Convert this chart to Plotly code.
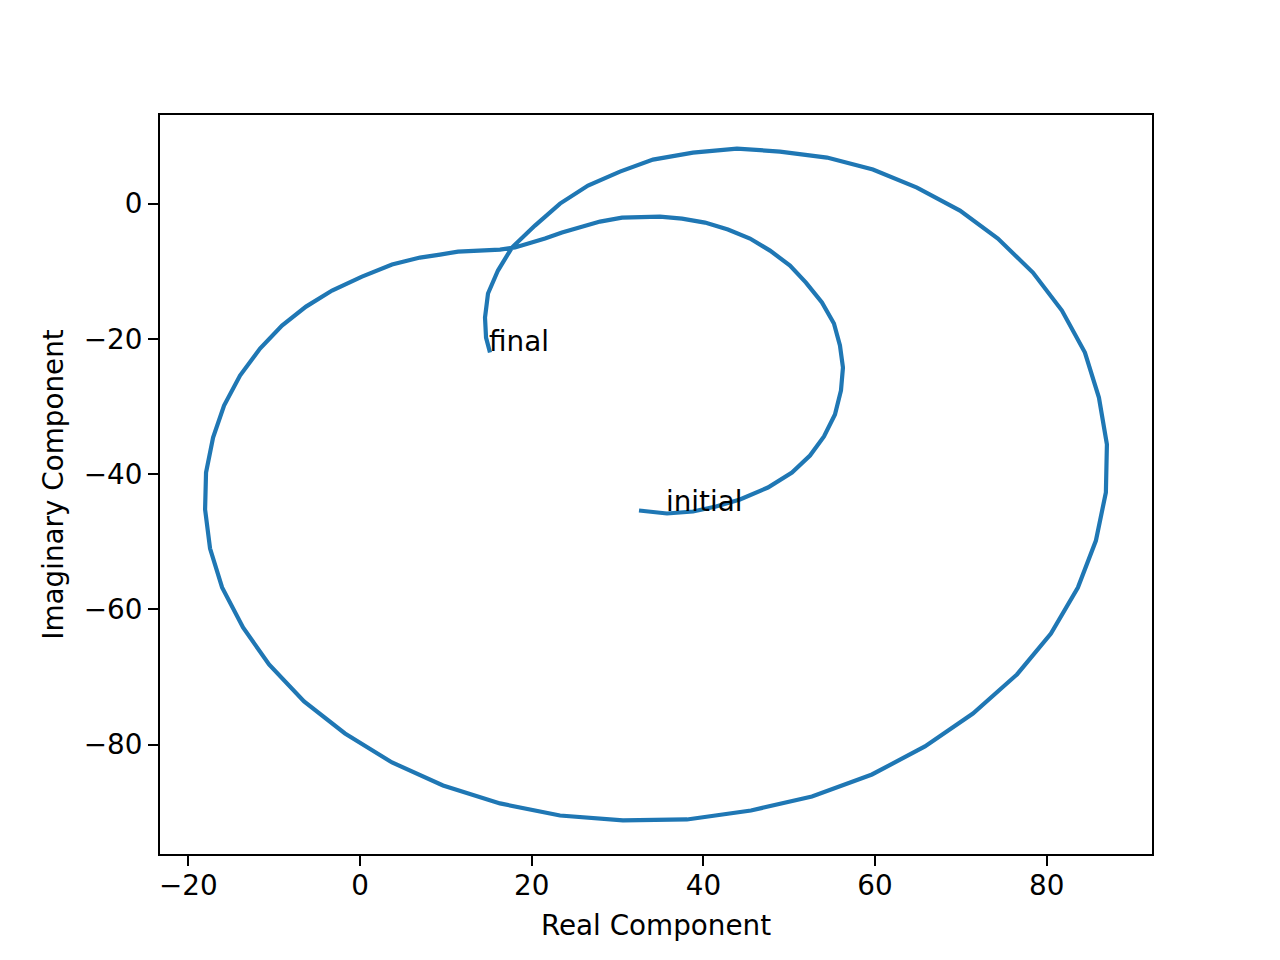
import plotly.graph_objects as go

real = [32.50, 35.76, 38.79, 41.47, 44.26, 47.52, 50.32, 52.42, 54.05, 55.33,
        56.03, 56.26, 55.91, 55.21, 53.81, 51.95, 50.09, 47.76, 45.43, 42.86,
        40.19, 37.51, 34.94, 33.20, 30.52, 27.96, 25.86, 23.53, 21.55, 19.80,
        18.05, 16.31, 11.42, 9.32, 6.99, 3.73, 0.23, -3.26, -6.29, -9.09,
        -11.65, -13.98, -15.84, -17.12, -17.94, -18.05, -17.47, -16.07, -13.63, -10.60,
        -6.52, -1.75, 3.73, 9.67, 16.31, 23.30, 30.63, 38.09, 45.54, 52.65,
        59.64, 65.81, 71.40, 76.53, 80.49, 83.63, 85.73, 86.89, 87.01, 86.08,
        84.45, 81.77, 78.39, 74.31, 69.89, 64.88, 59.75, 54.40, 48.92, 43.91,
        38.79, 34.13, 30.28, 26.56, 23.30, 20.38, 17.70, 16.07, 14.91, 14.56,
        14.68, 15.14]
imag = [-45.38, -45.82, -45.53, -44.79, -43.75, -41.98, -39.76, -37.25, -34.44, -31.19,
        -27.64, -24.24, -20.99, -17.74, -14.63, -11.68, -9.16, -6.95, -5.17, -3.84,
        -2.81, -2.22, -1.92, -1.92, -2.07, -2.66, -3.40, -4.29, -5.17, -5.91,
        -6.50, -6.80, -7.10, -7.54, -7.98, -9.02, -10.79, -12.86, -15.23, -18.03,
        -21.43, -25.43, -29.86, -34.59, -39.76, -45.23, -51.00, -56.76, -62.68, -68.15,
        -73.61, -78.34, -82.63, -86.03, -88.69, -90.47, -91.20, -91.06, -89.73, -87.66,
        -84.41, -80.27, -75.39, -69.62, -63.56, -56.76, -49.82, -42.72, -35.62, -28.68,
        -22.03, -15.82, -10.20, -5.17, -1.03, 2.37, 5.03, 6.80, 7.69, 8.13,
        7.54, 6.50, 4.73, 2.66, 0.00, -3.25, -6.50, -9.90, -13.30, -16.85,
        -19.81, -22.03]

label_text = ["initial", "final"]
label_x = [35.76, 15.14]
label_y = [-45.82, -22.03]

x_ticks = [-20, 0, 20, 40, 60, 80]
y_ticks = [-80, -60, -40, -20, 0]

FONT = "DejaVu Sans"
FS = 27.8

def padded(vals, frac=0.05):
    lo, hi = min(vals), max(vals)
    d = (hi - lo) * frac
    return [lo - d, hi + d]

fig = go.Figure()
fig.add_trace(go.Scatter(x=real, y=imag, mode="lines",
                         line=dict(color="#1f77b4", width=4.2),
                         showlegend=False, hoverinfo="skip"))

for t, x, y in zip(label_text, label_x, label_y):
    fig.add_annotation(x=x, y=y, text=t, showarrow=False,
                       xanchor="left", yanchor="bottom", xshift=-3, yshift=-7,
                       font=dict(family=FONT, size=FS, color="black"))

axis_common = dict(showgrid=False, zeroline=False, showline=True, linecolor="black",
                   linewidth=2.2, mirror=True, ticks="outside", ticklen=10,
                   tickwidth=2.2, tickcolor="black",
                   tickfont=dict(family=FONT, size=FS, color="black"))

fig.update_xaxes(range=padded(real), tickvals=x_ticks, ticklabelstandoff=-4,
                 title=dict(text="Real Component", font=dict(family=FONT, size=FS, color="black"), standoff=14),
                 **axis_common)
fig.update_yaxes(range=padded(imag), tickvals=y_ticks,
                 title=dict(text="Imaginary Component", font=dict(family=FONT, size=FS, color="black"), standoff=12),
                 **axis_common)

fig.update_layout(width=1280, height=960,
                  margin=dict(l=152, r=136, t=107, b=114, pad=0),
                  plot_bgcolor="white", paper_bgcolor="white",
                  font=dict(family=FONT, size=FS, color="black"))

fig.write_html("out.html")
